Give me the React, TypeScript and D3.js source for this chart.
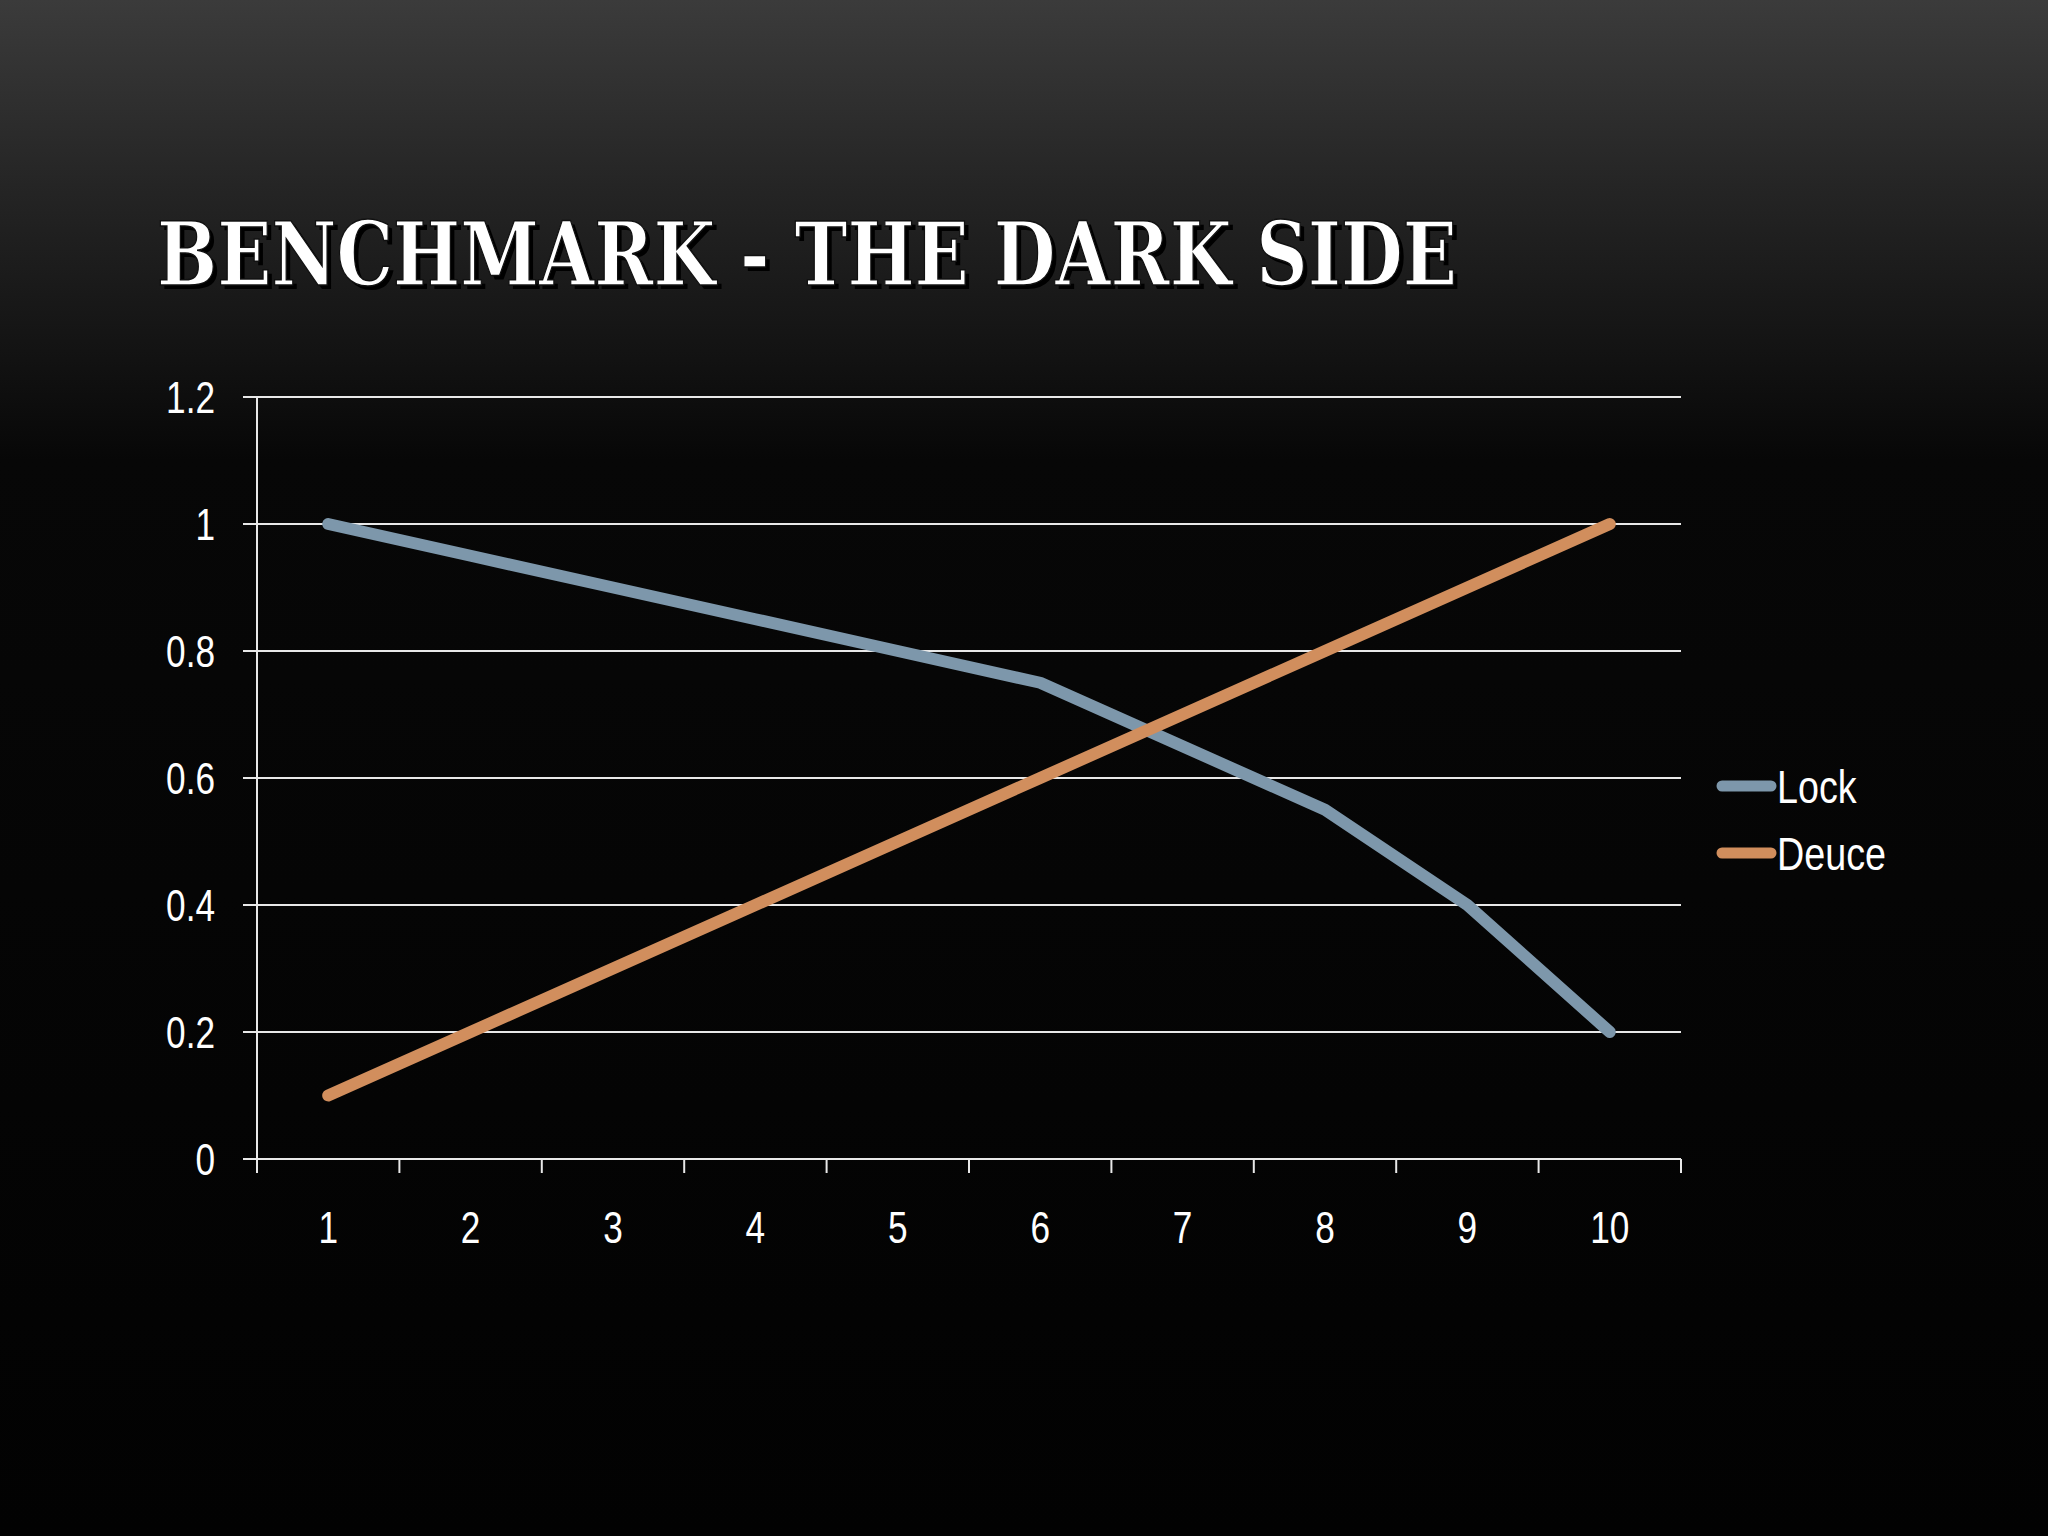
import { useEffect, useRef } from "react"
import * as d3 from "d3"

const categories = ["1", "2", "3", "4", "5", "6", "7", "8", "9", "10"]
const lockValues = [1, 0.95, 0.9, 0.85, 0.8, 0.75, 0.65, 0.55, 0.4, 0.2]
const deuceValues = [0.1, 0.2, 0.3, 0.4, 0.5, 0.6, 0.7, 0.8, 0.9, 1.0]
const yTicks = [0, 0.2, 0.4, 0.6, 0.8, 1, 1.2]
const seriesNames = ["Lock", "Deuce"]
const seriesColors = ["#7d97ab", "#d18e5d"]

const W = 2048, H = 1536
// no narrow font installed: squeeze Liberation Sans horizontally instead
const FONT = "'Liberation Sans Narrow', 'Arial Narrow', 'Liberation Sans', sans-serif"
const SQ = 0.8

export default function App() {
  const ref = useRef<SVGSVGElement>(null)
  useEffect(() => {
    document.body.style.margin = "0"
    if (!ref.current) return
    const root = d3.select(ref.current)
    root.selectAll("*").remove()

    // background: grey at top fading to black
    const defs = root.append("defs")
    const grad = defs.append("linearGradient").attr("id", "bg").attr("x1", 0).attr("y1", 0).attr("x2", 0).attr("y2", 1)
    grad.append("stop").attr("offset", "0%").attr("stop-color", "#3b3b3b")
    grad.append("stop").attr("offset", "12%").attr("stop-color", "#252525")
    grad.append("stop").attr("offset", "30%").attr("stop-color", "#070707")
    grad.append("stop").attr("offset", "100%").attr("stop-color", "#020202")
    root.append("rect").attr("width", W).attr("height", H).attr("fill", "url(#bg)")

    // title with dark offset shadow
    const title = "BENCHMARK - THE DARK SIDE"
    ;[{ dx: 4, dy: 4, fill: "#000" }, { dx: 0, dy: 0, fill: "#fff" }].forEach(t => {
      root.append("text").attr("x", 157 + t.dx).attr("y", 285 + t.dy)
        .attr("textLength", 1300).attr("lengthAdjust", "spacingAndGlyphs")
        .style("font-family", "'DejaVu Serif', 'Liberation Serif', serif").style("font-weight", "bold")
        .style("font-size", "88px").style("fill", t.fill)
        .style("stroke", t.fill === "#fff" ? "#111" : "none").style("stroke-width", 1.5)
        .text(title)
    })

    const m = { left: 257, right: 1681, top: 397, bottom: 1159 }
    const x = d3.scaleBand().domain(categories).range([m.left, m.right])
    const y = d3.scaleLinear().domain([0, 1.2]).range([m.bottom, m.top])
    const tick = 14
    const g = root.append("g")

    // gridlines (extend left as ticks)
    g.selectAll("line.grid").data(yTicks).join("line").attr("class", "grid")
      .attr("x1", m.left - tick).attr("x2", m.right).attr("y1", d => y(d)).attr("y2", d => y(d))
      .attr("stroke", "#e8e8e8").attr("stroke-width", 2)
    // y axis line
    g.append("line").attr("x1", m.left).attr("x2", m.left).attr("y1", y(1.2)).attr("y2", m.bottom + tick)
      .attr("stroke", "#e8e8e8").attr("stroke-width", 2)
    // x ticks at band boundaries
    const bounds = categories.map(c => x(c)!).concat([m.right])
    g.selectAll("line.xt").data(bounds).join("line").attr("class", "xt")
      .attr("x1", d => d).attr("x2", d => d).attr("y1", m.bottom).attr("y2", m.bottom + tick)
      .attr("stroke", "#e8e8e8").attr("stroke-width", 2)

    // y labels
    g.selectAll("text.yl").data(yTicks).join("text").attr("class", "yl")
      .attr("transform", d => `translate(215,${y(d) + 16}) scale(${SQ},1)`).attr("text-anchor", "end")
      .style("font-family", FONT).style("font-size", "44px").style("fill", "#fff")
      .text(d => String(d))
    // x labels
    g.selectAll("text.xl").data(categories).join("text").attr("class", "xl")
      .attr("transform", d => `translate(${x(d)! + x.bandwidth() / 2},1243) scale(${SQ},1)`).attr("text-anchor", "middle")
      .style("font-family", FONT).style("font-size", "44px").style("fill", "#fff")
      .text(d => d)

    // series lines
    const line = d3.line<number>().x((_, i) => x(categories[i])! + x.bandwidth() / 2).y(d => y(d))
    ;[lockValues, deuceValues].forEach((vals, i) => {
      g.append("path").attr("d", line(vals)).attr("fill", "none")
        .attr("stroke", seriesColors[i]).attr("stroke-width", 12)
        .attr("stroke-linecap", "round").attr("stroke-linejoin", "round")
    })

    // legend
    seriesNames.forEach((name, i) => {
      const ly = 786 + i * 67
      g.append("line").attr("x1", 1722).attr("x2", 1771).attr("y1", ly).attr("y2", ly)
        .attr("stroke", seriesColors[i]).attr("stroke-width", 11).attr("stroke-linecap", "round")
      g.append("text").attr("transform", `translate(1777,${ly + 17}) scale(${SQ + 0.02},1)`)
        .style("font-family", FONT).style("font-size", "46px").style("fill", "#fff")
        .text(name)
    })
  }, [])
  return <svg ref={ref} width={W} height={H} style={{ display: "block" }} />
}
